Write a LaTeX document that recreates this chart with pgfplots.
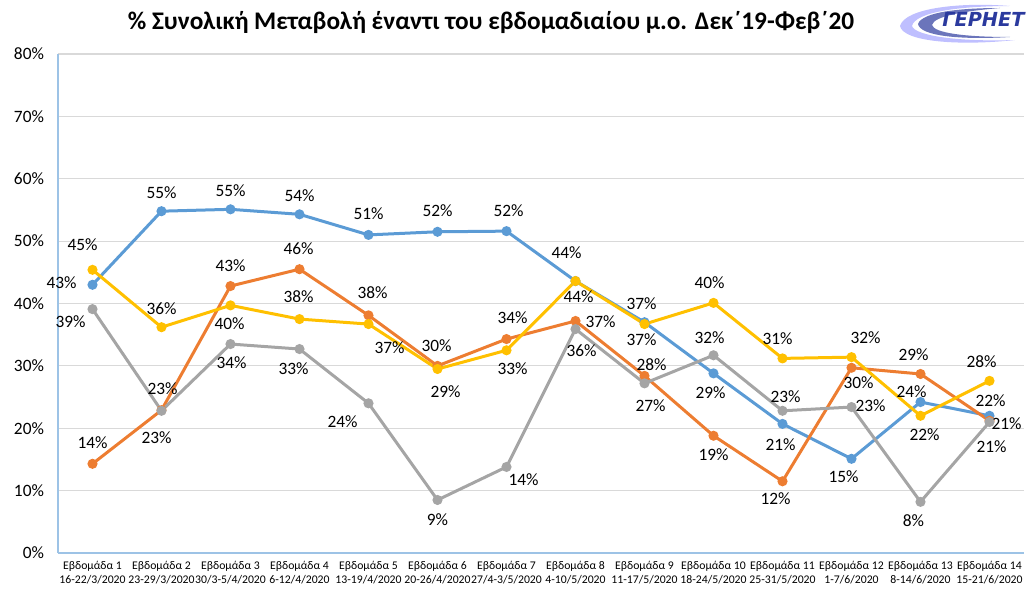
\documentclass[border=0pt]{standalone}
\usepackage{fontspec}
\setmainfont{Carlito}
\newfontfamily\logofont{DejaVu Sans}
\usepackage{pgfplots}
\pgfplotsset{compat=1.18}
\definecolor{sblue}{HTML}{5B9BD5}
\definecolor{sorange}{HTML}{ED7D31}
\definecolor{sgray}{HTML}{A5A5A5}
\definecolor{syellow}{HTML}{FFC000}
\definecolor{axblue}{HTML}{9DC3E6}
\definecolor{gridc}{HTML}{D9D9D9}
\definecolor{logoblue}{HTML}{2B3A9E}

\pgfplotstableread{
x y lab dx dy
0 43.0 43 -31 -2
1 54.8 55 0 -19
2 55.1 55 0 -19
3 54.3 54 0 -19
4 51.0 51 0 -21
5 51.5 52 0 -21
6 51.6 52 2 -20
7 43.6 44 -9 -28
8 37.0 37 -3 -19
9 28.8 29 -3 19
10 20.7 21 -2 21
11 15.1 15 -8 18
12 24.2 24 -9 -10
13 22.0 22 1 -15
}\blue

\pgfplotstableread{
x y lab dx dy
0 14.3 14 0 -21
1 22.9 23 -5 27
2 42.8 43 0 -20
3 45.5 46 -1 -21
4 38.1 38 4 -23
5 30.0 30 -1 -20
6 34.3 34 6 -21
7 37.2 37 25 1
8 28.4 28 7 -11
9 18.8 19 0 19
10 11.5 12 -7 17
11 29.7 30 7 15
12 28.7 29 -7 -19
13 21.2 21 17 3
}\orange

\pgfplotstableread{
x y lab dx dy
0 39.1 39 -22 13
1 22.8 23 1 -22
2 33.5 34 1 19
3 32.7 33 -6 20
4 24.0 24 -26 18
5 8.5 9 0 20
6 13.8 14 17 13
7 35.9 36 6 22
8 27.2 27 6 22
9 31.7 32 -4 -18
10 22.8 23 3 -14
11 23.4 23 19 -1
12 8.2 8 -7 19
13 21.0 21 2 25
}\gray

\pgfplotstableread{
x y lab dx dy
0 45.4 45 -10 -25
1 36.2 36 0 -19
2 39.7 40 -1 18
3 37.5 38 -1 -22
4 36.7 37 21 24
5 29.5 29 8 23
6 32.5 33 6 18
7 43.6 44 3 16
8 36.7 37 -3 16
9 40.1 40 -4 -20
10 31.2 31 -5 -20
11 31.4 32 14 -19
12 22.0 22 4 19
13 27.6 28 -8 -19
}\yellow

\begin{document}
\begin{tikzpicture}
\begin{scope}[x=0.75pt,y=-0.75pt,shift={(-58,-553)}]
\useasboundingbox (0,0) rectangle (1031,590);
% title
\node[font=\bfseries\fontsize{19}{22}\selectfont, anchor=base] at (491,30)
  {\% Συνολική Μεταβολή έναντι του εβδομαδιαίου μ.ο. Δεκ΄19-Φεβ΄20};
% logo
\fill[blue!25!white] (900,26) .. controls (905,8) and (960,2) .. (1010,6)
   .. controls (960,6) and (915,12) .. (912,26) .. controls (915,36) and (960,42) .. (1015,40)
   .. controls (960,46) and (903,42) .. (900,26) -- cycle;
\fill[logoblue!70!white] (918,24) .. controls (922,12) and (960,8) .. (1000,8)
   .. controls (965,11) and (934,16) .. (932,25) .. controls (934,33) and (965,37) .. (1010,37)
   .. controls (960,40) and (920,36) .. (918,24) -- cycle;
\node[font=\logofont\bfseries\itshape\fontsize{14.5}{16}\selectfont, text=logoblue, anchor=base west, inner sep=0pt] at (942,27) {ΓΕΡΗΕΤ};
\end{scope}
\begin{axis}[
  at={(0,0)}, anchor=south west,
  scale only axis,
  width=724.5pt, height=374.25pt,
  xmin=-0.5, xmax=13.5, ymin=0, ymax=80,
  axis x line*=bottom, axis y line*=left,
  axis line style={draw=axblue, line width=1.2pt, -},
  ymajorgrids, grid style={gridc, line width=0.8pt},
  major tick length=0pt,
  ytick={0,10,20,30,40,50,60,70,80},
  yticklabels={0\%,10\%,20\%,30\%,40\%,50\%,60\%,70\%,80\%},
  yticklabel style={font=\fontsize{13}{15}\selectfont, xshift=-7pt},
  xtick={0,...,13},
  xticklabels={{Εβδομάδα 1\\16-22/3/2020},{Εβδομάδα 2\\23-29/3/2020},{Εβδομάδα 3\\30/3-5/4/2020},{Εβδομάδα 4\\6-12/4/2020},{Εβδομάδα 5\\13-19/4/2020},{Εβδομάδα 6\\20-26/4/2020},{Εβδομάδα 7\\27/4-3/5/2020},{Εβδομάδα 8\\4-10/5/2020},{Εβδομάδα 9\\11-17/5/2020},{Εβδομάδα 10\\18-24/5/2020},{Εβδομάδα 11\\25-31/5/2020},{Εβδομάδα 12\\1-7/6/2020},{Εβδομάδα 13\\8-14/6/2020},{Εβδομάδα 14\\15-21/6/2020}},
  xticklabel style={font=\fontsize{8.8}{10}\selectfont, align=center, yshift=-3pt},
  /pgf/number format/assume math mode=true,
  every axis plot/.append style={line width=2.25pt, mark=*, mark size=2.6pt},
  point meta=explicit symbolic,
  nodes near coords={\pgfplotspointmeta\%},
  visualization depends on={\thisrow{dx}\as\dx},
  visualization depends on={\thisrow{dy}\as\dy},
  every node near coord/.append style={anchor=center, font=\fontsize{13}{15}\selectfont, text=black, xshift=\dx*0.75pt, yshift=-\dy*0.75pt},
]
\addplot[color=sblue] table[x=x,y=y,meta=lab]{\blue};
\addplot[color=sorange] table[x=x,y=y,meta=lab]{\orange};
\addplot[color=sgray] table[x=x,y=y,meta=lab]{\gray};
\addplot[color=syellow] table[x=x,y=y,meta=lab]{\yellow};
\end{axis}
\end{tikzpicture}
\end{document}
